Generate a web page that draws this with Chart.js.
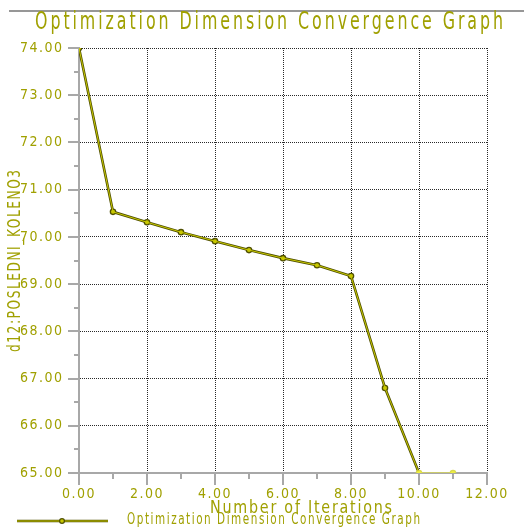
<!DOCTYPE html>
<html><head><meta charset="utf-8">
<script src="https://cdn.jsdelivr.net/npm/chart.js@4"></script>
<style>html,body{margin:0;padding:0;background:#fff;overflow:hidden}#wrap{width:524px;height:532px}</style>
</head><body><div id="wrap"><canvas id="c" width="524" height="532"></canvas></div>
<script>
const chartTitle = 'Optimization Dimension Convergence Graph';
const xAxisTitle = 'Number of Iterations';
const yAxisTitle = 'd12:POSLEDNI_KOLENO3';
const legendLabel = 'Optimization Dimension Convergence Graph';
const iterations = [0, 1, 2, 3, 4, 5, 6, 7, 8, 9, 10, 11];
const dimensionValues = [74.00, 70.53, 70.31, 70.10, 69.91, 69.72, 69.55, 69.40, 69.17, 66.80, 65.00, 65.00];
const xRange = [0, 12];
const yRange = [65, 74];
const xStep = 2;
const yStep = 1;

const TEXT = '#a0a000';
const DARK = '#505000';
const YEL = '#c8c800';
const AXIS = '#a8a8a8';
const FONT = "'Liberation Sans Narrow', 'DejaVu Sans Condensed', sans-serif";

const points = iterations.map((x, i) => ({x: x, y: dimensionValues[i]}));
const lastIdx = points.length - 2;

function drawFitted(ctx, text, cx, cy, width, size, spacing, rot) {
  ctx.save();
  ctx.font = size + 'px ' + FONT;
  ctx.letterSpacing = spacing + 'px';
  const w = ctx.measureText(text).width - spacing;
  ctx.translate(cx, cy);
  if (rot) ctx.rotate(rot);
  ctx.scale(width / w, 1);
  ctx.textAlign = 'left';
  ctx.textBaseline = 'middle';
  ctx.fillStyle = TEXT;
  ctx.fillText(text, -w / 2, 0);
  ctx.restore();
}

const decor = {
  id: 'decor',
  beforeDraw(chart) {
    const ctx = chart.ctx;
    ctx.save();
    ctx.fillStyle = '#fff';
    ctx.fillRect(0, 0, chart.width, chart.height);
    ctx.restore();
    ctx.letterSpacing = '1.5px';
  },
  afterDraw(chart) {
    const ctx = chart.ctx;
    const xs = chart.scales.x, ys = chart.scales.y;
    const ca = chart.chartArea;
    ctx.save();
    ctx.letterSpacing = '0px';
    // top rule
    ctx.strokeStyle = '#303030';
    ctx.lineWidth = 1.2;
    ctx.beginPath(); ctx.moveTo(9, 11); ctx.lineTo(524, 11); ctx.stroke();
    // ticks
    ctx.strokeStyle = AXIS;
    ctx.lineWidth = 2;
    for (let v = yRange[0]; v <= yRange[1] + 1e-9; v += yStep / 2) {
      const y = Math.round(ys.getPixelForValue(v));
      const major = Math.abs(v - Math.round(v)) < 1e-9;
      ctx.beginPath(); ctx.moveTo(ca.left - (major ? 11 : 5), y); ctx.lineTo(ca.left, y); ctx.stroke();
    }
    for (let v = xRange[0]; v <= xRange[1] + 1e-9; v += xStep / 2) {
      const x = Math.round(xs.getPixelForValue(v));
      const major = v % xStep === 0;
      ctx.beginPath(); ctx.moveTo(x, ca.bottom); ctx.lineTo(x, ca.bottom + (major ? 12 : 6)); ctx.stroke();
    }
    ctx.restore();
    drawFitted(ctx, chartTitle, 269, 23, 468, 24, 4, 0);
    drawFitted(ctx, yAxisTitle, 16, 261, 182, 17, 2, -Math.PI / 2);
    drawFitted(ctx, xAxisTitle, 301, 508, 182, 18, 2, 0);
    // legend
    ctx.save();
    ctx.strokeStyle = DARK; ctx.lineWidth = 2.6;
    ctx.beginPath(); ctx.moveTo(17, 521); ctx.lineTo(108, 521); ctx.stroke();
    ctx.strokeStyle = YEL; ctx.lineWidth = 1;
    ctx.beginPath(); ctx.moveTo(17, 521); ctx.lineTo(108, 521); ctx.stroke();
    ctx.fillStyle = DARK; ctx.beginPath(); ctx.arc(62, 521, 3, 0, Math.PI * 2); ctx.fill();
    ctx.fillStyle = YEL; ctx.beginPath(); ctx.arc(62, 521, 1.8, 0, Math.PI * 2); ctx.fill();
    ctx.restore();
    const lw = 293;
    drawFitted(ctx, legendLabel, 127 + lw / 2, 520, lw, 15, 2, 0);
  }
};

const gridColor = (zeroVal) => (c) => (c.tick && Math.abs(c.tick.value - zeroVal) < 1e-9) ? 'rgba(0,0,0,0)' : '#2a2a2a';

new Chart(document.getElementById('c'), {
  type: 'line',
  data: {
    datasets: [
      {
        label: legendLabel,
        data: points,
        order: 1,
        borderColor: YEL,
        borderWidth: 1,
        pointRadius: 2,
        pointBorderWidth: 0,
        pointBackgroundColor: iterations.map((x, i) => i >= 10 ? '#f0f040' : YEL),
        tension: 0,
        segment: { borderColor: c => c.p0DataIndex === lastIdx ? '#eeee30' : YEL }
      },
      {
        label: 'outline',
        data: points,
        order: 2,
        borderColor: DARK,
        borderWidth: 2.6,
        pointRadius: 3.3,
        pointBorderWidth: 0,
        pointBackgroundColor: iterations.map((x, i) => i >= 10 ? '#d8d850' : DARK),
        tension: 0,
        segment: { borderColor: c => c.p0DataIndex === lastIdx ? 'rgba(0,0,0,0)' : DARK }
      }
    ]
  },
  options: {
    responsive: false,
    devicePixelRatio: 1,
    animation: false,
    layout: { padding: { top: 48, right: 37, left: 0, bottom: 0 } },
    plugins: { legend: { display: false }, title: { display: false }, tooltip: { enabled: false } },
    scales: {
      x: {
        type: 'linear', min: xRange[0], max: xRange[1],
        afterFit: s => { s.height = 59; },
        ticks: { stepSize: xStep, padding: 13, color: TEXT, font: { family: FONT, size: 14 }, callback: v => v.toFixed(2), maxRotation: 0 },
        grid: { color: gridColor(xRange[0]), lineWidth: 1, drawTicks: false },
        border: { color: AXIS, width: 2, dash: [1, 1] }
      },
      y: {
        type: 'linear', min: yRange[0], max: yRange[1],
        afterFit: s => { s.width = 79; },
        ticks: { stepSize: yStep, padding: 15.5, color: TEXT, font: { family: FONT, size: 14 }, callback: v => v.toFixed(2) },
        grid: { color: gridColor(yRange[0]), lineWidth: 1, drawTicks: false },
        border: { color: AXIS, width: 2, dash: [1, 1] }
      }
    }
  },
  plugins: [decor]
});
</script></body></html>
